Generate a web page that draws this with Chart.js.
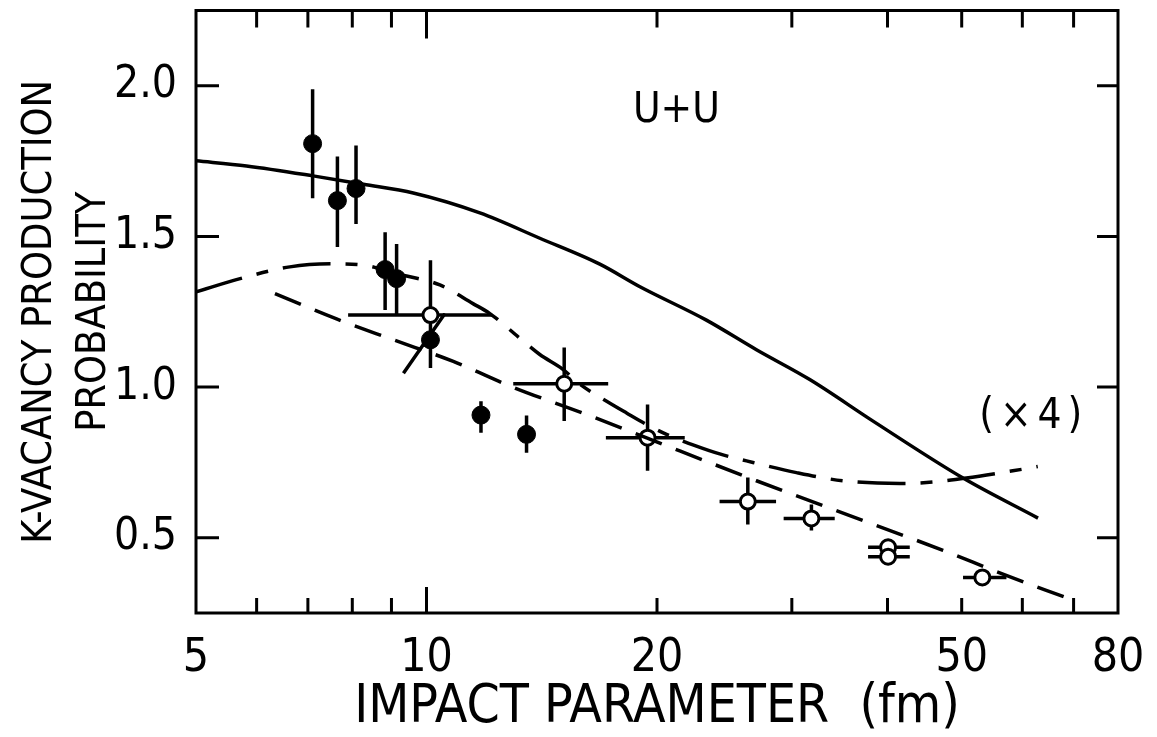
<!DOCTYPE html>
<html lang="en">
<head>
<meta charset="UTF-8">
<title>K-vacancy production probability, U+U</title>
<script src="https://cdn.jsdelivr.net/npm/chart.js@4.4.1/dist/chart.umd.min.js"></script>
<style>
  html, body { margin: 0; padding: 0; background: #fff; }
  #wrap { width: 1157px; height: 737px; }
</style>
</head>
<body>
<div id="wrap"><canvas id="chart"></canvas></div>
<script>
// theory curves
const solidX = [5.0, 5.82, 7.11, 8.27, 9.61, 11.74, 14.06, 16.84, 19.0, 23.17, 26.97, 31.66, 38.3, 50.2, 62.9];
const solidY = [1.751, 1.734, 1.701, 1.673, 1.644, 1.578, 1.494, 1.408, 1.333, 1.223, 1.124, 1.025, 0.887, 0.698, 0.565];

const dashDotX = [5.0, 5.71, 6.63, 7.54, 8.26, 9.14, 10.41, 11.5, 12.1, 13.24, 14.06, 15.07, 15.87, 17.19, 18.25, 19.38, 20.58, 22.52, 24.15, 26.18, 30.42, 34.97, 41.51, 44.97, 50.7, 58.3, 62.85];
const dashDotY = [1.316, 1.36, 1.399, 1.409, 1.405, 1.376, 1.339, 1.277, 1.244, 1.162, 1.108, 1.059, 1.009, 0.953, 0.914, 0.876, 0.843, 0.804, 0.778, 0.755, 0.716, 0.689, 0.68, 0.683, 0.698, 0.722, 0.736];

const dashedX = [6.34, 7.63, 9.05, 10.84, 12.98, 16.18, 21.42, 26.97, 35.71, 47.27, 56.6, 68.8];
const dashedY = [1.31, 1.226, 1.157, 1.085, 0.999, 0.909, 0.788, 0.689, 0.573, 0.458, 0.379, 0.299];

const segX = [9.33, 10.57];
const segY = [1.046, 1.244];

// filled points, vertical error bars
const filledX = [7.10, 7.65, 8.09, 8.83, 9.14, 10.12, 11.78, 13.51];
const filledY = [1.808, 1.619, 1.659, 1.390, 1.360, 1.157, 0.907, 0.843];
const filledHi = [1.989, 1.765, 1.802, 1.514, 1.475, 1.25, 0.953, 0.906];
const filledLo = [1.627, 1.465, 1.541, 1.256, 1.239, 1.063, 0.848, 0.782];

// open points, x and y error bars
const openX = [10.12, 15.13, 19.44, 26.28, 31.82, 40.07, 40.07, 53.2];
const openY = [1.239, 1.011, 0.832, 0.620, 0.564, 0.468, 0.437, 0.368];
const openHi = [1.421, 1.131, 0.942, 0.700, 0.610, 0.468, 0.437, 0.368];
const openLo = [1.063, 0.887, 0.722, 0.544, 0.524, 0.468, 0.437, 0.368];
const openXLo = [7.90, 12.98, 17.15, 24.14, 29.27, 37.73, 37.73, 50.2];
const openXHi = [12.18, 17.27, 21.74, 28.61, 34.13, 42.77, 42.77, 57.2];

const xTickLabels = [5, 10, 20, 50, 80];
const yTickLabels = [0.5, 1.0, 1.5, 2.0];
const xMinorTicks = [6, 7, 8, 9, 20, 30, 40, 50, 60, 70];
const xMajorTicks = [10];

const FONT = "'DejaVu Sans Condensed', 'DejaVu Sans', sans-serif";

function pts(xs, ys) {
    return xs.map((x, i) => ({ x: x, y: ys[i] }));
}

// inside ticks, frame, error bars and the two labels
const extras = {
    id: 'extras',
    beforeDatasetsDraw(chart) {
        const ctx = chart.ctx;
        const xs = chart.scales.x, ys = chart.scales.y;
        ctx.save();
        ctx.strokeStyle = '#000';
        ctx.lineWidth = 3.5;
        ctx.lineCap = 'butt';
        ctx.beginPath();
        for (let i = 0; i < filledX.length; i++) {
            const px = xs.getPixelForValue(filledX[i]);
            ctx.moveTo(px, ys.getPixelForValue(filledHi[i]));
            ctx.lineTo(px, ys.getPixelForValue(filledLo[i]));
        }
        for (let i = 0; i < openX.length; i++) {
            const px = xs.getPixelForValue(openX[i]);
            const py = ys.getPixelForValue(openY[i]);
            if (openHi[i] != openLo[i]) {
                ctx.moveTo(px, ys.getPixelForValue(openHi[i]));
                ctx.lineTo(px, ys.getPixelForValue(openLo[i]));
            }
            ctx.moveTo(xs.getPixelForValue(openXLo[i]), py);
            ctx.lineTo(xs.getPixelForValue(openXHi[i]), py);
        }
        ctx.stroke();
        ctx.restore();
    },
    afterDraw(chart) {
        const ctx = chart.ctx;
        const a = chart.chartArea;
        const xs = chart.scales.x, ys = chart.scales.y;
        ctx.save();
        ctx.strokeStyle = '#000';
        ctx.lineWidth = 3;
        ctx.strokeRect(a.left, a.top, a.right - a.left, a.bottom - a.top);
        ctx.beginPath();
        xMinorTicks.concat(xMajorTicks).forEach(v => {
            const len = xMajorTicks.includes(v) ? 26 : 15;
            const px = xs.getPixelForValue(v);
            ctx.moveTo(px, a.bottom); ctx.lineTo(px, a.bottom - len);
            ctx.moveTo(px, a.top); ctx.lineTo(px, a.top + len + 2);
        });
        yTickLabels.forEach(v => {
            const py = ys.getPixelForValue(v);
            ctx.moveTo(a.left, py); ctx.lineTo(a.left + 23, py);
            ctx.moveTo(a.right, py); ctx.lineTo(a.right - 21, py);
        });
        ctx.stroke();

        ctx.fillStyle = '#000';
        ctx.textAlign = 'center';
        ctx.textBaseline = 'middle';
        ctx.font = '42px ' + FONT;
        ctx.fillText('U+U', xs.getPixelForValue(21.2), ys.getPixelForValue(1.917));
        ctx.letterSpacing = '6px';
        ctx.fillText('(×4)', xs.getPixelForValue(62.1), ys.getPixelForValue(0.90));
        ctx.restore();
    }
};

const lineBase = { showLine: true, pointRadius: 0, borderColor: '#000', borderWidth: 3.5, fill: false, cubicInterpolationMode: 'monotone' };

new Chart(document.getElementById('chart'), {
    type: 'scatter',
    data: {
        datasets: [
            Object.assign({ label: 'theory', data: pts(solidX, solidY) }, lineBase),
            Object.assign({ label: 'theory x4', data: pts(dashDotX, dashDotY), borderDash: [48, 15, 12, 15] }, lineBase),
            Object.assign({ label: 'fit', data: pts(dashedX, dashedY), borderDash: [28, 15] }, lineBase),
            Object.assign({ label: 'segment', data: pts(segX, segY) }, lineBase),
            {
                label: 'filled', data: pts(filledX, filledY), pointRadius: 9,
                pointBackgroundColor: '#000', pointBorderColor: '#000', pointBorderWidth: 1
            },
            {
                label: 'open', data: pts(openX, openY), pointRadius: 7.5,
                pointBackgroundColor: '#fff', pointBorderColor: '#000', pointBorderWidth: 3
            }
        ]
    },
    options: {
        responsive: true,
        maintainAspectRatio: false,
        animation: false,
        events: [],
        layout: { padding: { top: 7, right: 39, left: 0, bottom: 0 } },
        plugins: { legend: { display: false }, tooltip: { enabled: false } },
        scales: {
            x: {
                type: 'logarithmic',
                min: 5,
                max: 80,
                afterBuildTicks: s => { s.ticks = xTickLabels.map(v => ({ value: v })); },
                afterFit: s => { s.height = 124; s.paddingLeft = 0; s.paddingRight = 0; },
                grid: { display: false, drawTicks: false },
                border: { display: false },
                ticks: {
                    color: '#000', padding: 18, maxRotation: 0, autoSkip: false,
                    font: { family: FONT, size: 46 },
                    callback: v => String(v)
                },
                title: {
                    display: true, text: 'IMPACT PARAMETER  (fm)', color: '#000',
                    font: { family: FONT, size: 53, lineHeight: 1.1 }, padding: { top: 0, bottom: 0 }
                }
            },
            y: {
                min: 0.25,
                max: 2.25,
                afterBuildTicks: s => { s.ticks = yTickLabels.map(v => ({ value: v })); },
                afterFit: s => { s.width = 196; s.paddingTop = 0; s.paddingBottom = 0; },
                grid: { display: false, drawTicks: false },
                border: { display: false },
                ticks: {
                    color: '#000', padding: 19,
                    font: { family: FONT, size: 44 },
                    callback: v => v.toFixed(1)
                },
                title: {
                    display: true, text: ['K-VACANCY PRODUCTION', 'PROBABILITY'], color: '#000',
                    font: { family: FONT, size: 41, lineHeight: 1.3 }, padding: { top: 14, bottom: 0 }
                }
            }
        }
    },
    plugins: [extras]
});
</script>
</body>
</html>
